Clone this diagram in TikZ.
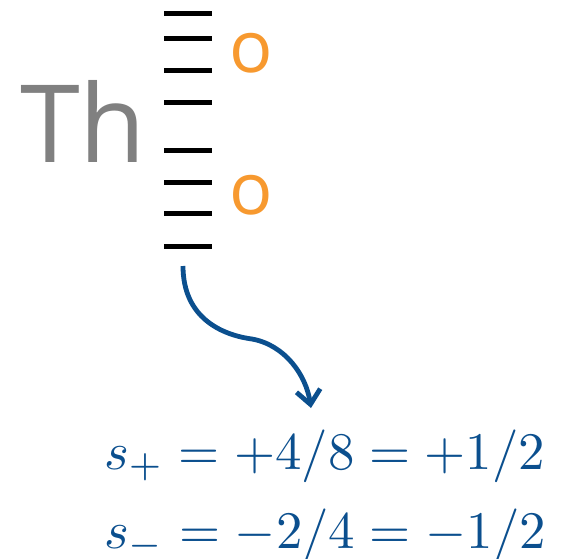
\documentclass[tikz,border=0pt]{standalone}
\usepackage{fontspec}
\setsansfont{Open Sans}
\usetikzlibrary{arrows.meta,positioning}
\definecolor{thgray}{HTML}{808080}
\definecolor{spinorange}{HTML}{F7992F}
\definecolor{eqblue}{HTML}{0B4F8E}
\newcommand{\bigeq}[1]{\scalebox{5.28}{$#1$}}

\begin{document}
\begin{tikzpicture}[x=1pt,y=-1pt,
  level/.style={line width=5pt,black},
  spin/.style={font=\sffamily\fontsize{72}{72}\selectfont,text=spinorange,inner sep=0pt},
  elem/.style={font=\sffamily\fontsize{108}{108}\selectfont,text=thgray,inner sep=0pt},
  eq/.style={text=eqblue,inner sep=0pt,anchor=base west}]

\useasboundingbox (0,0) rectangle (567,558);

% ---- element symbol ----
\node[elem,anchor=base west] (th) at (20,162) {Th};

% ---- level ladder ----
\foreach \yy in {13,38,70,102,150,182,213,246}{
  \draw[level] (164,\yy) -- (212,\yy);
}

% ---- occupied levels ----
\node[spin] (o1) at (251,53) {o};
\node[spin] (o2) at (251,195) {o};

% ---- arrow down to the result ----
\coordinate (ladder) at (183,266);
\coordinate (result) at (311,408);
\draw[eqblue,line width=4.8pt,-{Straight Barb[length=14pt,width=24pt]}]
  (ladder) .. controls (183,318) and (222,335) .. (252,339)
  .. controls (285,345) and (306,375) .. (result);

% ---- spin values ----
\node[eq] (splus) at (104,469) {\bigeq{s_+ = +4/8 = +1/2}};
\node[eq] (sminus) at (104,548) {\bigeq{s_- = -2/4 = -1/2}};

\end{tikzpicture}
\end{document}
